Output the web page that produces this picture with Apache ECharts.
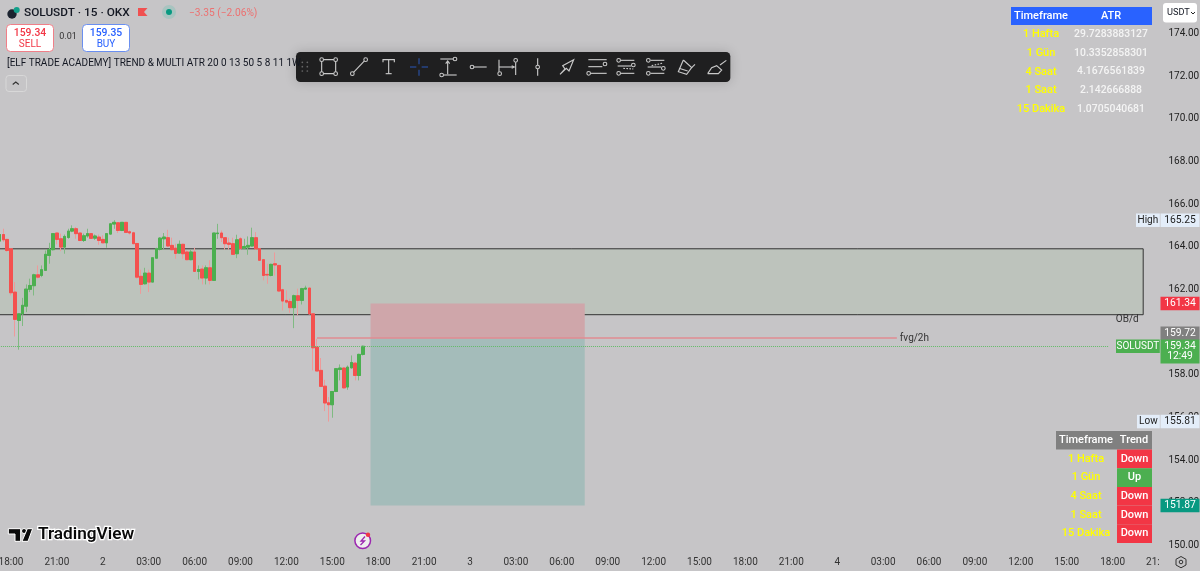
<!DOCTYPE html>
<html><head><meta charset="utf-8">
<style>html,body{margin:0;padding:0;background:#c6c5c7}#c{width:1200px;height:571px}</style>
<script src="https://cdn.jsdelivr.net/npm/echarts@6/dist/echarts.min.js"></script>
</head><body><div id="c"></div>
<script>
const firstCandle = -3;
const opens = [164.27,164.58,164.35,163.91,161.88,160.55,160.86,161.22,162.01,162.18,162.69,162.66,162.90,163.60,163.87,164.65,164.38,163.99,164.44,164.74,164.85,164.65,164.30,164.51,164.62,164.41,164.46,164.35,164.19,164.60,165.07,165.13,164.77,165.15,164.71,164.66,164.16,162.62,162.27,162.77,162.35,163.47,163.88,164.38,164.43,164.07,163.94,163.71,164.12,163.76,163.40,163.76,162.85,162.96,162.54,163.02,162.43,164.62,164.65,164.43,164.18,164.15,163.68,164.38,163.94,163.99,164.04,164.43,163.91,163.40,162.71,162.66,163.21,163.13,161.99,161.49,161.44,161.15,161.71,161.49,162.02,162.07,160.86,159.30,158.21,157.47,156.69,156.60,157.22,158.25,158.32,157.43,158.33,158.55,157.97,158.96];
const closes = [164.58,164.33,163.83,161.85,160.60,160.86,161.26,162.02,162.19,162.69,162.58,162.93,163.65,163.87,164.62,164.35,163.99,164.49,164.74,164.85,164.62,164.30,164.52,164.62,164.40,164.51,164.30,164.19,164.62,165.08,165.15,164.77,165.15,164.68,164.65,164.15,162.58,162.24,162.77,162.35,163.49,163.91,164.41,164.46,164.04,163.87,163.69,164.12,163.68,163.40,163.76,162.85,162.94,162.54,163.02,162.43,164.65,164.65,164.43,164.15,164.12,163.65,164.33,163.93,164.02,164.07,164.43,163.91,163.37,162.66,162.68,163.18,163.15,161.93,161.46,161.41,161.15,161.71,161.49,162.04,162.07,160.86,159.27,158.18,157.46,156.68,156.60,157.22,158.29,158.32,157.39,158.36,158.58,157.97,158.96,159.34];
const lows = [164.23,164.23,163.76,161.72,159.80,159.18,160.29,160.94,161.88,161.72,162.51,162.58,162.90,163.21,163.83,164.12,163.80,163.68,164.38,164.69,164.38,164.27,164.23,164.43,164.38,164.33,164.10,164.19,163.96,164.58,164.85,164.65,164.74,164.65,164.58,164.12,162.51,161.80,162.24,161.88,162.35,163.44,163.83,163.87,163.99,163.83,163.44,163.68,163.44,163.37,163.37,162.85,162.47,162.24,162.24,162.24,162.40,164.38,164.23,163.87,163.87,163.63,163.47,163.87,163.91,163.63,164.02,163.87,163.37,162.43,162.27,162.62,162.66,161.88,161.02,161.33,160.91,160.19,160.79,161.30,161.99,160.83,158.21,158.18,157.43,156.30,155.81,155.99,157.19,157.74,157.35,157.30,158.29,157.74,157.74,158.91];
const highs = [164.77,164.85,164.38,163.94,162.35,160.86,161.61,162.24,162.51,162.74,163.13,163.13,163.83,164.19,164.65,164.65,164.62,164.58,164.85,165.01,164.93,164.65,164.62,164.85,164.65,164.58,164.58,164.54,164.65,165.12,165.25,165.13,165.15,165.15,164.77,164.71,164.16,162.93,163.02,162.93,163.52,163.96,164.46,164.65,164.80,164.43,164.15,164.30,164.15,163.83,163.87,163.96,163.13,163.13,163.13,163.37,164.65,165.08,164.77,164.46,164.43,164.43,164.57,164.46,164.38,164.49,164.90,164.69,163.91,163.40,163.21,163.21,163.74,163.16,162.04,161.96,161.57,161.76,162.04,162.08,162.18,162.08,160.90,159.69,158.79,157.77,156.96,157.24,158.32,158.49,158.36,158.44,158.91,158.60,158.99,159.37];

const timeTicks = ['15:00','18:00','21:00','2','03:00','06:00','09:00','12:00','15:00','18:00','21:00','3','03:00','06:00','09:00','12:00','15:00','18:00','21:00','4','03:00','06:00','09:00','12:00','15:00','18:00','21:00'];
const lastPrice = 159.34, fvgPrice = 159.72, stopPrice = 161.34, targetPrice = 151.87, highPrice = 165.25, lowPrice = 155.81;
const obTop = 163.91, obBottom = 160.82;
const atrFrames = ['1 Hafta','1 Gün','4 Saat','1 Saat','15 Dakika'];
const atrValues = ['29.7283883127','10.3352858301','4.1676561839','2.142666888','1.0705040681'];
const trendValues = ['Down','Up','Down','Down','Down'];

const BG = '#c6c5c7', FONT = 'Roboto, sans-serif', RED = '#f4514f', GREEN = '#4caf50';
const index = opens.map((_, k) => firstCandle + k);
const wickData = index.map((x, k) => [x, opens[k], closes[k], lows[k], highs[k]]);
const bodyData = index.map((x, k) => [x, opens[k], closes[k], Math.min(opens[k], closes[k]), Math.max(opens[k], closes[k])]);

const tags = [
  {p: highPrice, t: highPrice.toFixed(2), bg: '#e3edf9', fg: '#222', side: 'High', sideX: 1136},
  {p: lowPrice, t: lowPrice.toFixed(2), bg: '#e3edf9', fg: '#222', side: 'Low', sideX: 1137},
  {p: stopPrice, t: stopPrice.toFixed(2), bg: '#f23645', fg: '#fff'},
  {p: targetPrice, t: targetPrice.toFixed(2), bg: '#089981', fg: '#fff'},
  {p: fvgPrice, t: fvgPrice.toFixed(2), bg: '#808080', fg: '#fff', dy: -5},
  {p: lastPrice, t: lastPrice.toFixed(2), bg: GREEN, fg: '#fff', side: 'SOLUSDT', sideX: 1116, sideBg: GREEN, sideFg: '#fff', sub: '12:49'}
];

/* decoration helpers */
const G = [];
const txt = (x, y, s, size, fill, align, extra) => ({type: 'text', z: 100, silent: true, x, y, style: Object.assign({text: s, fill, font: (extra && extra.w || 'normal') + ' ' + size + 'px ' + FONT, textAlign: align || 'left', textVerticalAlign: 'middle'}, extra && extra.s)});
const box = (x, y, w, h, fill, extra) => ({type: 'rect', z: 100, silent: true, shape: {x, y, width: w, height: h, r: extra && extra.r || 0}, style: Object.assign({fill}, extra && extra.s)});
const MED = {w: '500'};

/* right side pane below time axis */
G.push(box(1160, 552, 40, 19, BG));
G.push({type: 'polygon', z: 101, shape: {points: [[1181, 556.5], [1186, 559.3], [1186, 565], [1181, 567.8], [1176, 565], [1176, 559.3]]}, style: {fill: 'none', stroke: '#333', lineWidth: 1}});
G.push({type: 'circle', z: 101, shape: {cx: 1181, cy: 562, r: 1.8}, style: {fill: 'none', stroke: '#333', lineWidth: 1}});

/* header */
G.push({type: 'circle', z: 100, shape: {cx: 12, cy: 14, r: 4.7}, style: {fill: '#1c2430'}});
G.push({type: 'circle', z: 100, shape: {cx: 16.7, cy: 10, r: 3}, style: {fill: '#12a08a'}});
G.push(txt(24, 13, 'SOLUSDT · 15 · OKX', 11.8, '#131722', 'left', MED));
G.push({type: 'polygon', z: 100, shape: {points: [[138, 8], [147.5, 8], [144, 12], [147.5, 16], [138, 16]]}, style: {fill: '#f05050'}});
G.push({type: 'circle', z: 100, shape: {cx: 169, cy: 12, r: 7}, style: {fill: '#a8c4c0'}});
G.push({type: 'circle', z: 100, shape: {cx: 169, cy: 12, r: 3}, style: {fill: '#089981'}});
G.push(txt(189, 13, '−3.35 (−2.06%)', 10.2, '#ec7171'));
G.push(box(6.5, 24.5, 47, 27, '#fff', {r: 4, s: {stroke: '#f07f88', lineWidth: 1}}));
G.push(txt(30, 33, '159.34', 10.4, '#f23645', 'center', MED));
G.push(txt(30, 44, 'SELL', 10, '#f23645', 'center'));
G.push(txt(68, 37, '0.01', 9, '#333', 'center'));
G.push(box(82.5, 24.5, 47, 27, '#fff', {r: 4, s: {stroke: '#6a8ff0', lineWidth: 1}}));
G.push(txt(106, 33, '159.35', 10.4, '#2962ff', 'center', MED));
G.push(txt(106, 44, 'BUY', 10, '#2962ff', 'center'));
G.push(txt(7, 63.5, '[ELF TRADE ACADEMY] TREND & MULTI ATR 20 0 13 50 5 8 11 1W', 10, '#131722'));
G.push(box(6, 75.5, 20.5, 16, 'none', {r: 3, s: {stroke: '#d8d8d8', lineWidth: 1}}));
G.push({type: 'polyline', z: 100, shape: {points: [[12.7, 84.5], [15.8, 82], [18.8, 84.5]]}, style: {fill: 'none', stroke: '#333', lineWidth: 1.2}});

/* toolbar, drawn in a 3x local space */
const ICON = '#c9c9c9', BLUE = '#2a52a8', TB = '#1f1f20';
const tb = [];
const pl = (pts, stroke, dash) => tb.push({type: 'polyline', shape: {points: pts}, style: {fill: 'none', stroke: stroke || ICON, lineWidth: 3.4, lineDash: dash}});
const dot = (cx, cy) => tb.push({type: 'circle', shape: {cx, cy, r: 5.5}, style: {fill: TB, stroke: ICON, lineWidth: 3.2}});
tb.push({type: 'rect', shape: {x: 3, y: 21, width: 1303, height: 90, r: 13}, style: {fill: TB, shadowBlur: 12, shadowColor: 'rgba(0,0,0,0.18)'}});
[22, 37].forEach(x => [52, 65, 78].forEach(y => tb.push({type: 'circle', shape: {cx: x, cy: y, r: 2.6}, style: {fill: '#666'}})));
pl([[80, 44], [122, 44], [122, 86], [80, 86], [80, 44]]); [[80, 44], [122, 44], [122, 86], [80, 86]].forEach(c => dot(...c));
pl([[172, 86], [212, 44]]); dot(172, 86); dot(212, 44);
pl([[264, 52], [264, 44], [298, 44], [298, 52]]); pl([[281, 44], [281, 86]]); pl([[272, 86], [290, 86]]);
pl([[345, 66], [364, 66]], BLUE); pl([[380, 66], [399, 66]], BLUE); pl([[372, 40], [372, 58]], BLUE); pl([[372, 74], [372, 92]], BLUE);
pl([[436, 42], [474, 42]]); dot(480, 42); pl([[446, 90], [485, 90]]); dot(440, 90); pl([[458, 50], [458, 88]]); pl([[452, 56], [458, 48], [464, 56]]);
dot(531, 66); pl([[537, 66], [575, 66]]);
pl([[612, 44], [612, 80]]); dot(614, 86); pl([[662, 52], [662, 90]]); dot(662, 46); pl([[612, 66], [656, 66]]); pl([[650, 62], [658, 66], [650, 70]]);
pl([[728, 40], [728, 60]]); dot(728, 66); pl([[728, 72], [728, 92]]);
pl([[795, 88], [810, 72], [803, 62], [836, 44], [822, 78], [814, 70], [795, 88]]);
pl([[880, 44], [935, 44]]); pl([[880, 65], [922, 65]]); dot(930, 57); pl([[887, 85], [935, 85]]); dot(881, 85);
pl([[977, 46], [1018, 46]]); dot(971, 46); pl([[968, 63], [1008, 63]]); dot(1015, 60); pl([[985, 70], [1015, 72]], ICON, [5, 4]); pl([[977, 85], [1018, 85]]); dot(971, 85);
pl([[1066, 46], [1108, 46]]); dot(1060, 46); pl([[1058, 66], [1098, 66]]); dot(1105, 70); pl([[1070, 62], [1105, 54]], ICON, [5, 4]); pl([[1066, 85], [1108, 85]]); dot(1060, 85);
pl([[1165, 45], [1150, 80], [1175, 88], [1190, 68], [1165, 45]]); pl([[1152, 70], [1178, 78]]); pl([[1190, 68], [1200, 58]]);
pl([[1238, 86], [1250, 68], [1265, 62], [1280, 75], [1270, 86], [1238, 86]]); pl([[1275, 60], [1294, 46]]);
G.push({type: 'group', z: 100, x: 295, y: 45, scaleX: 1 / 3, scaleY: 1 / 3, silent: true, children: tb});

/* ATR table */
G.push(box(1011, 7, 141, 18, '#2962ff'));
G.push(txt(1041, 16, 'Timeframe', 11, '#fff', 'center', MED));
G.push(txt(1111, 16, 'ATR', 11, '#fff', 'center', MED));
atrFrames.forEach((f, k) => {
  const y = 34.5 + k * 18.7;
  G.push(txt(1041, y, f, 11, '#ffff00', 'center', MED));
  G.push(txt(1111, y, atrValues[k], 10.4, '#f4f4f4', 'center', MED));
});
/* Trend table */
G.push(box(1056, 431, 96, 18.5, '#808080'));
G.push(txt(1086, 440, 'Timeframe', 11, '#fff', 'center', MED));
G.push(txt(1134, 440, 'Trend', 11, '#fff', 'center', MED));
trendValues.forEach((t, k) => {
  const y = 449.5 + k * 18.7;
  G.push(box(1117, y, 35, 18.7, t === 'Up' ? GREEN : '#f23645'));
  G.push(txt(1134.5, y + 9.3, t, 11, '#fff', 'center', MED));
  G.push(txt(1086, y + 9.3, atrFrames[k], 11, '#ffff00', 'center', MED));
});
/* USDT button */
G.push(box(1163, 3, 34, 19.5, '#fff', {r: 3}));
G.push(txt(1167, 13, 'USDT', 9.2, '#131722'));
G.push({type: 'polyline', z: 100, shape: {points: [[1191, 12], [1193, 14], [1195, 12]]}, style: {fill: 'none', stroke: '#222', lineWidth: 1}});

/* logo */
const logo = [
  {type: 'polygon', shape: {points: [[25, 56], [62, 56], [62, 94], [45, 94], [45, 72], [25, 72]]}, style: {fill: '#0a0a0a', stroke: '#fff', lineWidth: 3}},
  {type: 'circle', shape: {cx: 72, cy: 63, r: 7.5}, style: {fill: '#0a0a0a', stroke: '#fff', lineWidth: 3}},
  {type: 'polygon', shape: {points: [[82, 56], [98, 56], [84, 94], [66, 94]]}, style: {fill: '#0a0a0a', stroke: '#fff', lineWidth: 3}}
];
G.push({type: 'group', z: 100, x: 0, y: 510, scaleX: 1 / 3, scaleY: 1 / 3, silent: true, children: logo});
G.push(txt(38, 535, 'TradingView', 17.2, '#0a0a0a', 'left', {w: '600', s: {stroke: '#fff', lineWidth: 2.5}}));
G.push({type: 'circle', z: 100, shape: {cx: 362.7, cy: 540.7, r: 7.8}, style: {fill: '#eee', stroke: '#9c27b0', lineWidth: 1.5}});
G.push({type: 'polyline', z: 100, shape: {points: [[365, 536.5], [361, 541], [364.5, 541], [360.5, 545]]}, style: {fill: 'none', stroke: '#9c27b0', lineWidth: 1.3}});
G.push({type: 'circle', z: 100, shape: {cx: 368, cy: 534.8, r: 2.2}, style: {fill: '#f23645'}});

const chart = echarts.init(document.getElementById('c'), null, {renderer: 'canvas'});
chart.setOption({
  animation: false,
  backgroundColor: BG,
  grid: {left: -34.9, right: 41.5, top: -9.08, height: 597.24, containLabel: false, outerBoundsMode: 'none'},
  xAxis: {
    type: 'value', min: -12, max: 300, interval: 12, offset: -34,
    axisLine: {show: false}, axisTick: {show: false}, splitLine: {show: false},
    axisLabel: {margin: 3.5, color: '#333', fontFamily: FONT, fontSize: 10, showMinLabel: true, showMaxLabel: true, hideOverlap: false,
      formatter: v => timeTicks[(v + 12) / 12]}
  },
  yAxis: {
    type: 'value', min: 148, max: 176, interval: 2, position: 'right',
    axisLine: {show: false}, axisTick: {show: false}, splitLine: {show: false},
    axisLabel: {margin: 10, color: '#222', fontFamily: FONT, fontSize: 10, align: 'left', formatter: v => v.toFixed(2)}
  },
  graphic: {elements: G},
  series: [
    {
      type: 'candlestick', name: 'SOLUSDT wicks', data: wickData, barWidth: 3.2, z: 3, silent: true,
      itemStyle: {color: GREEN, color0: RED, borderColor: '#7fba82', borderColor0: '#ee9a9a', borderWidth: 1},
      markArea: {
        silent: true,
        data: [
          [{xAxis: -12, yAxis: obTop, itemStyle: {color: '#bdc3bc', borderColor: '#333', borderWidth: 1}, label: {show: true, formatter: 'OB/d', position: 'insideBottomRight', offset: [0, 14], color: '#333', fontFamily: FONT, fontSize: 10}},
           {xAxis: 296, yAxis: obBottom}],
          [{xAxis: 94, yAxis: stopPrice, itemStyle: {color: '#cfa6aa'}}, {xAxis: 150, yAxis: fvgPrice}],
          [{xAxis: 94, yAxis: fvgPrice, itemStyle: {color: '#a4bcba'}}, {xAxis: 150, yAxis: targetPrice}]
        ]
      },
      markLine: {
        silent: true, symbol: 'none', animation: false, precision: 2,
        data: [
          [{coord: [-12, lastPrice], lineStyle: {color: '#62bb67', type: 'dotted', width: 1}, label: {show: false}}, {coord: [287, lastPrice]}],
          [{coord: [80, fvgPrice], lineStyle: {color: '#e08b92', type: 'solid', width: 1.6}, label: {show: true, position: 'end', formatter: 'fvg/2h', color: '#333', fontFamily: FONT, fontSize: 10, distance: 3}}, {coord: [231.6, fvgPrice]}]
        ]
      }
    },
    {
      type: 'candlestick', name: 'SOLUSDT bodies', data: bodyData, barWidth: 3.2, z: 4, silent: true,
      itemStyle: {color: GREEN, color0: RED, borderColor: GREEN, borderColor0: RED, borderWidth: 1}
    },
    {
      type: 'custom', name: 'price tags', z: 20, silent: true, clip: false,
      data: tags.map(t => [0, t.p]),
      renderItem(params, api) {
        const t = tags[params.dataIndex];
        const y = api.coord([0, api.value(1)])[1] + (t.dy || 0);
        const kids = [];
        const H = 13.5;
        const tall = t.sub ? 24 : H;
        kids.push({type: 'rect', shape: {x: 1160.5, y: y - H / 2, width: 39, height: tall}, style: {fill: t.bg}});
        kids.push({type: 'text', x: 1180, y, style: {text: t.t, fill: t.fg, font: '10.3px ' + FONT, textAlign: 'center', textVerticalAlign: 'middle'}});
        if (t.sub) kids.push({type: 'text', x: 1180, y: y + 10.5, style: {text: t.sub, fill: t.fg, font: '10.3px ' + FONT, textAlign: 'center', textVerticalAlign: 'middle'}});
        if (t.side) {
          kids.push({type: 'rect', shape: {x: t.sideX, y: y - H / 2, width: 1159.8 - t.sideX, height: H}, style: {fill: t.sideBg || t.bg}});
          kids.push({type: 'text', x: (t.sideX + 1159.8) / 2, y, style: {text: t.side, fill: t.sideFg || t.fg, font: '10px ' + FONT, textAlign: 'center', textVerticalAlign: 'middle'}});
        }
        return {type: 'group', children: kids};
      }
    }
  ]
});
</script></body></html>
